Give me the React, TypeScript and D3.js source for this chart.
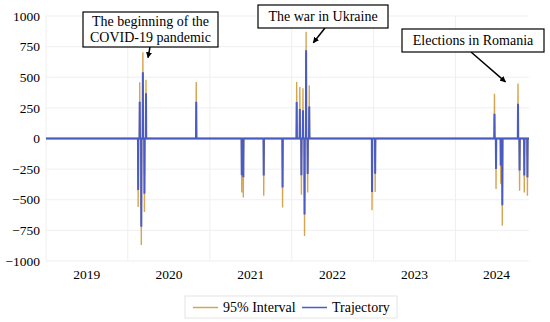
import * as d3 from "d3";
import React, { useRef, useEffect } from "react";

const width = 550;
const height = 322;

const margin = {
  top: 16,
  right: 21,
  bottom: 61,
  left: 46,
};

// daily observations that differ from zero
const eventDates = [
  "2020-02-16", "2020-02-23", "2020-03-01", "2020-03-08", "2020-03-15", "2020-03-22",
  "2020-11-01",
  "2021-05-23", "2021-05-30",
  "2021-08-29",
  "2021-11-21",
  "2022-01-23", "2022-02-06", "2022-02-13", "2022-02-20", "2022-02-27", "2022-03-06", "2022-03-13", "2022-03-20",
  "2022-12-25", "2023-01-08",
  "2024-06-23", "2024-06-30", "2024-07-21", "2024-07-28",
  "2024-10-06", "2024-10-13",
  "2024-11-03", "2024-11-17",
];

const trajectory = [
  -420, 300, -720, 540, -450, 370,
  300,
  -300, -317,
  -303,
  -400,
  298, 240, -300, 230, -620, 721, -290, 262,
  -437, -287,
  202, -248, -221, -545,
  284, -262,
  -303, -317,
];

const upper = [
  -260, 460, -560, 705, -290, 480,
  462,
  -140, -150,
  -140,
  -240,
  461, 420, -140, 410, -460, 871, -130, 434,
  -280, -130,
  366, -90, -70, -380,
  448, -100,
  -150, -160,
];

const lower = [
  -560, 140, -870, 380, -600, 210,
  140,
  -440, -481,
  -467,
  -563,
  140, 80, -460, 70, -795, 570, -440, 100,
  -586, -437,
  40, -412, -369, -713,
  120, -426,
  -440, -467,
];

const startDate = "2019-01-01";
const endDate = "2024-11-24";

const yTicks = [-1000, -750, -500, -250, 0, 250, 500, 750, 1000];
const yearLabels = ["2019", "2020", "2021", "2022", "2023", "2024"];

const annotationText = [
  ["The beginning of the", "COVID-19 pandemic"],
  ["The war in Ukraine"],
  ["Elections in Romania"],
];
const annotationTipDates = ["2020-03-31", "2022-04-07", "2024-08-11"];
const annotationTipValues = [660, 782, 462];

// layout of the callout boxes (pixels)
const boxes = [
  { x: 83, y: 12, w: 135, h: 35, fromX: 150 },
  { x: 258, y: 5, w: 130, h: 23, fromX: 325 },
  { x: 402, y: 29, w: 142, h: 23, fromX: 471 },
];

const blue = "#4a5bc2";
const gold = "#d6a553";
const font = "'Liberation Serif', 'Times New Roman', serif";

const App = () => {
  const svgRef = useRef(null);

  useEffect(() => {
    const parse = d3.timeParse("%Y-%m-%d");
    const start = parse(startDate);
    const end = parse(endDate);

    const xScale = d3
      .scaleTime()
      .domain([start, end])
      .range([margin.left, width - margin.right]);
    const yScale = d3
      .scaleLinear()
      .domain([-1000, 1000])
      .range([height - margin.bottom, margin.top]);

    const svg = d3.select(svgRef.current);
    svg.selectAll("*").remove();

    // gridlines
    const grid = svg.append("g").attr("class", "grid");
    grid
      .selectAll(".hgrid")
      .data(yTicks)
      .join("line")
      .attr("x1", margin.left)
      .attr("x2", width - margin.right)
      .attr("y1", (d) => yScale(d))
      .attr("y2", (d) => yScale(d))
      .attr("stroke", "#efefef")
      .attr("stroke-width", 1);

    const yearStarts = yearLabels.map((y) => parse(`${y}-01-01`));
    grid
      .selectAll(".vgrid")
      .data(yearStarts)
      .join("line")
      .attr("x1", (d) => xScale(d))
      .attr("x2", (d) => xScale(d))
      .attr("y1", yScale(1000))
      .attr("y2", yScale(-1000))
      .attr("stroke", "#efefef")
      .attr("stroke-width", 1);

    // y labels
    svg
      .append("g")
      .selectAll("text")
      .data(yTicks)
      .join("text")
      .attr("x", margin.left - 6)
      .attr("y", (d) => yScale(d))
      .attr("dy", "0.35em")
      .attr("text-anchor", "end")
      .attr("font-size", 13.5)
      .attr("font-family", font)
      .text((d) => (d < 0 ? `\u2212${Math.abs(d)}` : `${d}`));

    // x labels at middle of each year
    svg
      .append("g")
      .selectAll("text")
      .data(yearLabels)
      .join("text")
      .attr("x", (d) => xScale(parse(`${d}-07-02`)))
      .attr("y", height - margin.bottom + 13)
      .attr("dy", "0.35em")
      .attr("text-anchor", "middle")
      .attr("font-size", 13.5)
      .attr("font-family", font)
      .text((d) => d);

    // daily series, zero where nothing was recorded
    const lookup = new Map();
    eventDates.forEach((d, i) => {
      lookup.set(+parse(d), i);
    });
    const days = d3.timeDay.range(start, d3.timeDay.offset(end, 1));
    const series = (values) =>
      days.map((day) => {
        const i = lookup.get(+day);
        return [day, i === undefined ? 0 : values[i]];
      });

    const line = d3
      .line()
      .x((d) => xScale(d[0]))
      .y((d) => yScale(d[1]));

    const lines = svg.append("g").attr("class", "lines");
    [upper, lower].forEach((vals) => {
      lines
        .append("path")
        .attr("d", line(series(vals)))
        .attr("fill", "none")
        .attr("stroke", gold)
        .attr("stroke-width", 1.4)
        .attr("stroke-linejoin", "bevel");
    });
    lines
      .append("path")
      .attr("d", line(series(trajectory)))
      .attr("fill", "none")
      .attr("stroke", blue)
      .attr("stroke-width", 2)
      .attr("stroke-linejoin", "bevel");

    // arrowhead
    svg
      .append("defs")
      .append("marker")
      .attr("id", "arrow")
      .attr("viewBox", "0 0 10 10")
      .attr("refX", 9)
      .attr("refY", 5)
      .attr("markerWidth", 6)
      .attr("markerHeight", 6)
      .attr("markerUnits", "userSpaceOnUse")
      .attr("orient", "auto")
      .append("path")
      .attr("d", "M0,0 L10,5 L0,10 z")
      .attr("fill", "#000");

    // callouts
    const notes = svg.append("g").attr("class", "notes");
    annotationText.forEach((textLines, i) => {
      const b = boxes[i];
      const tx = xScale(parse(annotationTipDates[i]));
      const ty = yScale(annotationTipValues[i]);
      notes
        .append("line")
        .attr("x1", b.fromX)
        .attr("y1", b.y + b.h)
        .attr("x2", tx)
        .attr("y2", ty)
        .attr("stroke", "#000")
        .attr("stroke-width", 1.5)
        .attr("marker-end", "url(#arrow)");
      notes
        .append("rect")
        .attr("x", b.x)
        .attr("y", b.y)
        .attr("width", b.w)
        .attr("height", b.h)
        .attr("fill", "#fff")
        .attr("stroke", "#000")
        .attr("stroke-width", 1.2);
      textLines.forEach((t, j) => {
        notes
          .append("text")
          .attr("x", b.x + b.w / 2)
          .attr("y", b.y + b.h / 2 + (j - (textLines.length - 1) / 2) * 16)
          .attr("dy", "0.35em")
          .attr("text-anchor", "middle")
          .attr("font-size", 14)
          .attr("font-family", font)
          .text(t);
      });
    });

    // legend
    const legend = svg.append("g").attr("class", "legend");
    legend
      .append("rect")
      .attr("x", 185)
      .attr("y", 296)
      .attr("width", 212)
      .attr("height", 22)
      .attr("fill", "#fff")
      .attr("stroke", "#e4e4e4");
    const items = [
      { label: "95% Interval", color: gold, x: 193 },
      { label: "Trajectory", color: blue, x: 302 },
    ];
    items.forEach((it) => {
      legend
        .append("line")
        .attr("x1", it.x)
        .attr("x2", it.x + 25)
        .attr("y1", 307.5)
        .attr("y2", 307.5)
        .attr("stroke", it.color)
        .attr("stroke-width", 1.5);
      legend
        .append("text")
        .attr("x", it.x + 30)
        .attr("y", 307.5)
        .attr("dy", "0.35em")
        .attr("font-size", 14)
        .attr("font-family", font)
        .text(it.label);
    });
  }, []);

  return (
    <svg
      ref={svgRef}
      width={width}
      height={height}
      style={{ position: "absolute", left: 0, top: 0, background: "#fff" }}
    ></svg>
  );
};

export default App;
